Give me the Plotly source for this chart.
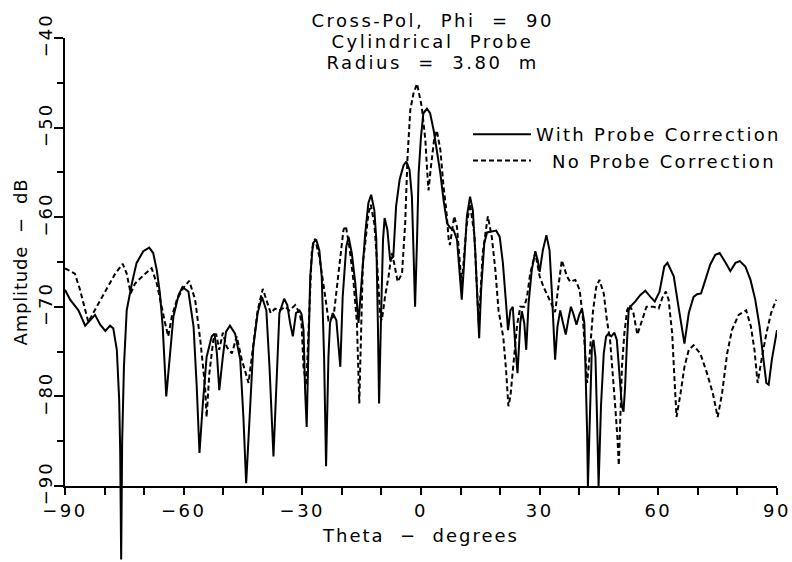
import plotly.graph_objects as go

# ---------------- data ----------------
theta_with = [
    -90.0, -88.7, -86.6, -84.9, -82.4, -81.1, -79.8, -78.6, -77.8, -76.9, -76.3, -76.05, -75.8, -75.55,
    -75.1, -74.4, -73.1, -71.9, -70.2, -68.7, -67.7, -66.8, -66.0, -65.3, -64.4, -63.6, -62.6, -61.3,
    -60.3, -58.8, -57.5, -56.7, -56.0, -55.2, -54.2, -52.9, -52.2, -51.6, -51.0, -50.1, -49.3, -48.3,
    -47.0, -45.7, -44.9, -44.2, -43.4, -42.4, -41.3, -40.2, -39.1, -38.3, -37.3, -36.4, -35.8, -34.6,
    -33.8, -33.1, -32.4, -31.6, -30.7, -30.2, -29.7, -29.3, -28.9, -28.5, -28.0, -27.3, -26.5, -25.7,
    -25.1, -24.5, -24.0, -23.4, -23.0, -22.3, -21.4, -20.4, -19.8, -18.9, -18.3, -17.5, -16.6, -15.8,
    -14.9, -14.1, -13.3, -12.6, -11.8, -11.3, -10.9, -10.6, -10.1, -9.6, -9.2, -8.5, -7.8, -7.0,
    -6.3, -5.4, -4.4, -3.7, -2.9, -2.3, -1.9, -1.5, -1.0, -0.6, 0.0, 0.6, 1.5, 2.3, 3.2, 4.0, 4.9,
    5.7, 6.6, 7.4, 8.2, 9.1, 9.7, 10.3, 10.9, 11.6, 12.4, 13.1, 13.7, 14.3, 14.7, 15.2, 16.0, 16.7,
    17.9, 19.0, 19.9, 20.7, 21.5, 22.0, 22.6, 23.2, 23.8, 24.4, 25.1, 25.5, 26.1, 26.6, 27.2, 28.0,
    28.9, 29.5, 30.0, 30.8, 31.7, 32.5, 33.1, 33.7, 33.9, 34.5, 35.2, 35.9, 36.6, 37.3, 37.9, 38.6,
    39.3, 40.0, 40.7, 41.3, 41.7, 42.0, 42.2, 42.8, 43.2, 43.6, 44.1, 44.5, 44.9, 45.5, 46.2, 46.8,
    47.4, 48.1, 48.9, 49.5, 50.2, 50.8, 51.2, 51.6, 52.1, 52.5, 53.1, 54.2, 55.4, 56.7, 58.0, 59.1,
    60.3, 61.5, 62.3, 63.9, 65.1, 66.0, 66.6, 67.7, 68.9, 69.8, 70.8, 71.9, 73.1, 74.4, 75.5, 76.9,
    78.2, 79.5, 80.6, 82.0, 83.3, 84.5, 85.6, 86.5, 87.3, 87.9, 88.7, 90.0,
]
amp_with = [
    -68.1, -69.2, -70.4, -72.1, -70.9, -72.0, -72.7, -72.1, -72.4, -74.8, -80.4, -86.0, -98.2, -85.0,
    -76.7, -70.4, -67.4, -65.1, -63.8, -63.4, -64.0, -65.9, -68.5, -72.2, -80.0, -75.9, -71.1, -68.7,
    -67.8, -68.3, -72.2, -78.9, -86.3, -81.1, -75.6, -73.3, -73.0, -75.2, -79.3, -75.6, -72.8, -72.1,
    -73.0, -75.9, -82.3, -89.7, -82.3, -74.5, -70.7, -68.9, -70.4, -76.7, -86.7, -76.7, -70.7, -69.1,
    -69.8, -71.8, -73.3, -70.7, -70.4, -70.8, -72.6, -79.3, -83.4, -75.6, -66.6, -62.9, -62.5, -63.7,
    -66.6, -75.6, -87.8, -75.6, -71.8, -70.7, -71.5, -76.7, -68.9, -63.3, -62.2, -64.0, -67.4, -71.8,
    -65.9, -61.8, -58.4, -57.5, -59.2, -62.5, -71.8, -80.8, -71.1, -62.5, -60.1, -61.4, -64.8, -64.4,
    -58.8, -55.8, -54.2, -53.8, -54.7, -57.7, -63.7, -70.0, -62.5, -55.1, -51.0, -48.4, -47.9, -48.4,
    -50.3, -52.5, -55.1,
    -58.1, -60.7, -61.2, -61.4, -62.5, -65.5, -69.2, -65.1, -59.9, -57.7, -59.2, -63.7, -68.9, -73.5,
    -68.1, -62.9, -61.7,
    -61.6, -61.5, -62.2, -65.1, -69.6, -72.6, -70.4, -70.0, -74.1, -77.4, -71.8, -70.5, -71.8, -74.8,
    -69.6, -65.9,
    -63.8, -64.8, -66.1, -63.7, -62.0, -63.7, -68.5, -73.7, -75.9, -72.2, -70.4, -71.8, -73.1, -71.3,
    -70.0, -70.9,
    -72.0, -70.9, -70.2, -71.8, -78.5, -84.1, -90.0, -78.9, -74.5, -73.7, -75.6, -82.3, -90.0, -81.1,
    -75.2, -73.3,
    -73.0, -73.3, -72.9, -73.7, -77.4, -81.1, -81.7, -78.9, -73.7, -70.4, -69.9, -69.4, -68.7, -68.2,
    -68.9, -69.4,
    -68.3, -65.5, -65.1, -66.6, -70.0, -72.2, -74.1, -70.7, -68.9, -68.6, -68.5, -67.0, -65.3, -64.2,
    -64.0, -65.0,
    -66.0, -65.1, -64.9, -65.5, -67.0, -69.2, -72.2, -75.6, -78.5, -78.7, -75.9, -72.6,
]

theta_no = [
    -90.0, -87.5, -86.2, -84.9, -84.1, -82.0, -79.4, -77.3, -75.4, -74.4, -73.4, -72.3, -70.2, -68.1,
    -66.8, -66.0, -64.7, -63.9, -63.0, -61.7, -60.1, -58.6, -57.1, -55.8, -54.6, -54.2, -53.5, -52.5,
    -51.8, -51.0, -50.1, -49.1, -47.8, -46.6, -45.3, -43.6, -42.5, -41.3, -40.0, -38.8, -38.0, -36.9,
    -35.8, -34.3, -33.3, -31.8, -30.7, -30.2, -29.7, -29.0, -28.2, -27.6, -26.8, -25.7, -24.2, -23.4,
    -22.1, -21.3, -20.4, -19.6, -19.0, -18.1, -17.1, -16.2, -15.6, -15.1, -14.7, -14.1, -13.3, -12.7,
    -11.8, -11.2, -10.3, -9.9, -9.1, -8.2, -7.4, -6.8, -5.9, -4.8, -4.0, -3.4, -2.7, -1.9, -1.0, 0.2,
    1.1, 1.5, 1.9, 2.5, 3.3, 4.0, 4.9, 5.7, 6.4, 7.0, 7.3, 8.4, 9.1, 9.7, 10.3, 11.5, 12.4, 13.5,
    14.6, 15.6, 16.9, 17.9, 18.8, 19.6, 20.8, 21.5, 22.1, 22.6, 23.4, 24.3, 25.1, 26.1, 26.8, 27.6,
    28.9, 30.0, 31.0, 31.8, 32.8, 33.9, 34.8, 35.6, 36.9, 37.7, 39.0, 40.1, 40.9, 41.5, 42.0, 42.6,
    43.5, 44.3, 45.1, 46.2, 47.0, 47.8, 48.5, 49.1, 49.7, 50.0, 50.4, 50.8, 51.4, 52.1, 52.7, 53.7,
    54.7, 55.9, 57.0, 58.8, 60.1, 61.0, 61.9, 62.6, 63.5, 64.0, 64.6, 65.6, 66.6, 67.7, 68.9, 70.6,
    72.3, 73.8, 75.0, 76.1, 77.4, 78.6, 80.3, 82.2, 83.4, 84.3, 85.1, 86.2, 87.3, 88.5, 89.8,
]
amp_no = [
    -65.7, -66.3, -68.1, -70.4, -71.7, -70.0, -67.9, -66.3, -65.2, -66.3, -68.5, -67.4, -66.5, -65.7,
    -67.4, -69.2, -71.8, -73.3, -71.1, -69.2, -67.9, -67.1, -69.2, -73.7, -78.9, -82.3, -77.4, -73.7,
    -73.0, -74.8, -72.9, -74.5, -75.2, -73.3, -75.9, -78.5, -74.8, -70.4, -68.0, -69.6, -70.7, -70.2,
    -70.4, -70.0, -70.4, -69.8, -70.7, -71.8, -76.7, -78.8, -68.9, -63.7, -62.4, -64.4, -68.9, -71.5,
    -71.1, -68.1, -64.4, -61.4, -61.0, -63.3, -67.0, -71.8, -80.8, -71.8, -65.1, -62.9, -59.6, -58.6,
    -60.7, -64.4, -71.1, -71.5, -68.9, -66.6, -64.0, -65.1, -67.2, -66.3, -60.7, -53.2, -48.0, -46.2,
    -45.1, -47.7,
    -51.4, -54.4, -57.0, -54.4, -51.4, -50.3, -52.5, -56.6, -59.2, -62.5, -63.1, -59.9, -61.1, -64.4,
    -67.6, -61.0, -58.5, -62.0,
    -72.0, -64.0, -59.9, -62.2, -65.9, -70.4, -73.4, -77.0, -81.1, -80.0, -76.3, -72.0, -70.0, -70.0,
    -68.9, -66.3,
    -64.0, -66.6, -67.8, -68.5, -69.5, -70.6, -67.5, -64.8, -66.6, -67.2, -67.0, -68.1, -71.1, -74.8,
    -78.5, -75.6,
    -70.4, -67.8, -67.0, -68.5, -71.5, -73.7, -77.4, -81.1, -84.9, -87.7, -82.3, -76.7, -73.0, -70.4,
    -69.8, -70.7,
    -73.1, -71.5, -70.0, -70.0, -70.2, -69.0, -68.3, -69.2, -73.0, -77.4, -82.3, -79.7, -76.7, -74.8,
    -74.3, -75.2,
    -77.4, -79.7, -82.3, -79.7, -75.2, -72.6, -70.9, -70.4, -72.2, -74.8, -78.5, -75.6, -73.0, -70.7,
    -69.2,
]

series_names = ["With Probe Correction", "\u00a0\u00a0No Probe Correction"]
title_lines = ["Cross-Pol,  Phi  =  90", "Cylindrical  Probe", "Radius  =  3.80  m"]
x_title = "Theta  \u2212  degrees"
y_title = "Amplitude  \u2212  dB"

# ---------------- layout geometry ----------------
W, H = 792, 562
TOP, AXIS_Y, LEFT, RIGHT = 38, 486, 65, 777
Y_LO, Y_HI = -90, -40
plot_w = RIGHT - LEFT
plot_h = H - TOP                      # bottom margin 0, plot area reaches page bottom
y_dom0 = (H - AXIS_Y) / plot_h
db_per_px = (Y_HI - Y_LO) / (AXIS_Y - TOP)
y2_lo = Y_HI - plot_h * db_per_px     # extended (invisible) axis so the deep null can pass below the axis line


def px_to_paper_x(px):
    return (px - LEFT) / plot_w


def px_to_paper_y(py):
    return 1 - (py - TOP) / plot_h


FONT = "DejaVu Sans"
FS = 18
TITLE_LINE_Y = [20.5, 41.5, 62.5]

fig = go.Figure()
fig.add_trace(go.Scatter(
    x=theta_with, y=amp_with, name=series_names[0], mode="lines",
    line=dict(color="black", width=2), xaxis="x", yaxis="y2",
))
fig.add_trace(go.Scatter(
    x=theta_no, y=amp_no, name=series_names[1], mode="lines",
    line=dict(color="black", width=2, dash="5px,3px"), xaxis="x", yaxis="y",
))

for line_text, ly in zip(title_lines, TITLE_LINE_Y):
    fig.add_annotation(
        text=line_text, xref="paper", yref="paper",
        x=px_to_paper_x(432), y=px_to_paper_y(ly), xanchor="center", yanchor="middle",
        showarrow=False, align="center",
        font=dict(family=FONT, size=FS, color="black"),
    )

fig.update_layout(
    template="none",
    width=W, height=H,
    margin=dict(l=LEFT, r=W - RIGHT, t=TOP, b=0, pad=0, autoexpand=False),
    paper_bgcolor="white", plot_bgcolor="rgba(0,0,0,0)",
    font=dict(family=FONT, size=FS, color="black"),
    showlegend=True,
    legend=dict(
        x=px_to_paper_x(468), xanchor="left",
        y=px_to_paper_y(116), yanchor="top", bgcolor="rgba(0,0,0,0)", borderwidth=0,
        font=dict(family=FONT, size=FS, color="black"), itemwidth=58,
        tracegroupgap=0,
    ),
    xaxis=dict(
        range=[-90, 90], domain=[0, 1], anchor="y",
        showline=True, linecolor="black", linewidth=2, mirror=False,
        showgrid=False, zeroline=False,
        tick0=-90, dtick=30, ticks="outside", ticklen=7, tickwidth=2, tickcolor="black",
        minor=dict(tick0=-90, dtick=10, ticks="outside", ticklen=7, tickwidth=2, tickcolor="black", showgrid=False),
        tickfont=dict(family=FONT, size=FS, color="black"),
        title=dict(text=x_title, standoff=10, font=dict(family=FONT, size=FS, color="black")),
        automargin=False,
    ),
    yaxis=dict(
        range=[Y_LO, Y_HI], domain=[y_dom0, 1], anchor="x",
        showline=True, linecolor="black", linewidth=2,
        showgrid=False, zeroline=False,
        tick0=-90, dtick=10, ticks="outside", ticklen=9, tickwidth=2, tickcolor="black",
        minor=dict(tick0=-90, dtick=5, ticks="outside", ticklen=6, tickwidth=2, tickcolor="black", showgrid=False),
        tickangle=-90, ticklabelstandoff=-5,
        tickfont=dict(family=FONT, size=FS, color="black"),
        title=dict(text=y_title, standoff=2, font=dict(family=FONT, size=FS, color="black")),
        automargin=False,
    ),
    yaxis2=dict(
        range=[y2_lo, Y_HI], domain=[0, 1], anchor="x", visible=False,
        showgrid=False, zeroline=False,
    ),
)

# page without the default body margin, and the wide letter spacing of the original lettering
post_js = """
document.body.style.margin = '0';
document.body.style.overflow = 'hidden';
(function () {
  var gd = document.getElementById('{plot_id}');
  function spacing() {
    var rules = [['.xtick text', '2.5px'], ['.ytick text', '2px'], ['.legendtext', '2.3px'],
                 ['.annotation-text', '2.5px'], ['.g-xtitle text', '2px'], ['.g-ytitle text', '0.8px']];
    rules.forEach(function (r) {
      gd.querySelectorAll(r[0]).forEach(function (t) { t.style.letterSpacing = r[1]; });
    });
    gd.querySelectorAll('.legend .scrollbox').forEach(function (s) { s.removeAttribute('clip-path'); });
    gd.querySelectorAll('.legend').forEach(function (s) { s.style.overflow = 'visible'; });
  }
  spacing();
  if (gd.on) { gd.on('plotly_afterplot', spacing); }
})();
"""

fig.write_html("out.html", post_script=post_js, config={"displayModeBar": False})
